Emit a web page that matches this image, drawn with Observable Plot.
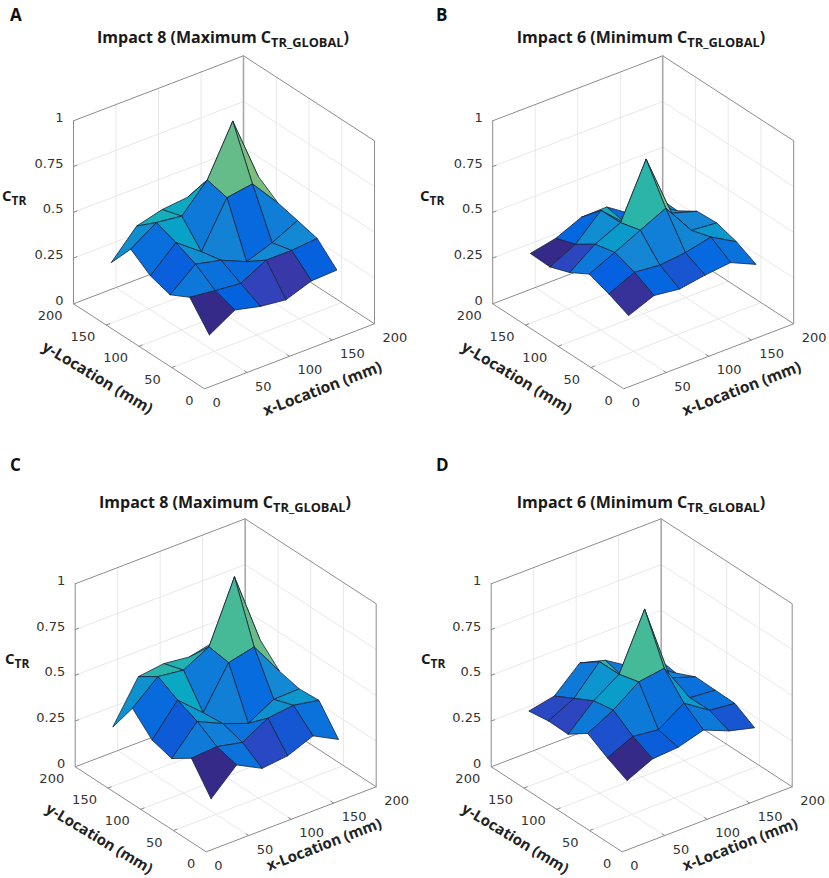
<!DOCTYPE html>
<html>
<head>
<meta charset="utf-8">
<script src="https://cdn.jsdelivr.net/npm/d3@7"></script>
<script src="https://cdn.jsdelivr.net/npm/@observablehq/plot@0.6"></script>
<style>
  body { margin: 0; background: #fff; width: 829px; height: 878px; position: relative; overflow: hidden; }
  .panel { position: absolute; }
  .letter { position: absolute; font: bold 17px "Open Sans"; color: #111; }
  .title { position: absolute; font: bold 16px "Open Sans"; color: #1a1a1a; white-space: nowrap; transform: translateX(-50%); }
  .title sub { font-size: 12.8px; line-height: 0; }
  .ctr { position: absolute; font: bold 15px "Open Sans"; color: #1a1a1a; }
  .ctr sub { font-size: 12px; line-height: 0; }
</style>
</head>
<body>
<script>
// sampling points of the surface (mm), same for x and y
const locations = [25, 55, 85, 115, 145, 175];
const xyTicks = [0, 50, 100, 150, 200];
const zTicks = [0, 0.25, 0.5, 0.75, 1];

// C_TR, one row per y-location, one column per x-location
const impact8A = [
  [0.192, 0.275, 0.241, 0.224, 0.274, 0.280],
  [0.328, 0.311, 0.297, 0.371, 0.371, 0.383],
  [0.272, 0.386, 0.354, 0.293, 0.343, 0.411],
  [0.306, 0.434, 0.331, 0.573, 0.595, 0.438],
  [0.382, 0.474, 0.456, 0.600, 0.868, 0.513],
  [0.238, 0.385, 0.422, 0.436, 0.506, 0.420]
];
const impact6B = [
  [0.298, 0.354, 0.336, 0.359, 0.374, 0.311],
  [0.346, 0.411, 0.397, 0.412, 0.444, 0.365],
  [0.385, 0.450, 0.518, 0.585, 0.411, 0.398],
  [0.324, 0.425, 0.490, 0.783, 0.435, 0.392],
  [0.285, 0.355, 0.487, 0.360, 0.410, 0.325],
  [0.289, 0.318, 0.380, 0.383, 0.290, 0.330]
];
const impact8C = [
  [0.187, 0.319, 0.247, 0.262, 0.318, 0.245],
  [0.339, 0.349, 0.319, 0.398, 0.415, 0.389],
  [0.268, 0.417, 0.352, 0.300, 0.378, 0.382],
  [0.299, 0.464, 0.342, 0.562, 0.595, 0.408],
  [0.403, 0.523, 0.505, 0.579, 0.908, 0.512],
  [0.231, 0.453, 0.471, 0.454, 0.486, 0.420]
];
const impact6D = [
  [0.287, 0.352, 0.362, 0.403, 0.345, 0.309],
  [0.341, 0.405, 0.388, 0.480, 0.388, 0.372],
  [0.405, 0.479, 0.580, 0.601, 0.387, 0.375],
  [0.331, 0.460, 0.552, 0.854, 0.426, 0.378],
  [0.334, 0.404, 0.551, 0.404, 0.420, 0.329],
  [0.318, 0.347, 0.475, 0.436, 0.349, 0.348]
];

// parula, the colormap of the surfaces
const parulaStops = [0, 0.0625, 0.125, 0.25, 0.375, 0.5, 0.625, 0.75, 0.875, 1];
const parulaColors = ["#352a87", "#3a3cb4", "#0363e1", "#1485d4", "#06a7c6", "#38b99e", "#92bf73", "#d9ba56", "#fcce2e", "#f9fb0e"];

function panel(cfg) {
  const [w, h] = cfg.size;
  const [ox, oy] = cfg.origin;
  const top = 1, max = 200;

  // the same view for all four plots: x runs up right, y up left, z straight up
  const project = (x, y, z) => ({
    px: ox + 0.85 * x - 0.655 * y,
    py: oy - 0.325 * x - 0.425 * y - 183 * z
  });
  const path = (id, pts) => pts.map(p => ({id, ...project(...p)}));

  // grid lines on floor and back walls
  let grid = [];
  xyTicks.slice(1, -1).forEach(t => {
    grid.push(...path("gx" + t, [[t, 0, 0], [t, max, 0], [t, max, top]]));
    grid.push(...path("gy" + t, [[0, t, 0], [max, t, 0], [max, t, top]]));
  });
  zTicks.slice(1, -1).forEach(t => {
    grid.push(...path("gz" + t, [[0, max, t], [max, max, t], [max, 0, t]]));
  });

  const box = [
    ...path("floor", [[0, max, top], [0, max, 0], [0, 0, 0], [max, 0, 0], [max, 0, top], [max, max, top], [0, max, top]]),
    ...path("back", [[0, max, 0], [max, max, 0], [max, 0, 0]])
  ];
  const backEdge = path("edge", [[max, max, 0], [max, max, top]]);

  // short tick marks along the axes
  let ticks = [];
  xyTicks.slice(1, -1).forEach(t => {
    ticks.push(...path("tx" + t, [[t, 0, 0], [t, 4, 0]]));
    ticks.push(...path("ty" + t, [[0, t, 0], [4, t, 0]]));
  });
  zTicks.slice(1, -1).forEach(t => {
    ticks.push(...path("tz" + t, [[0, max, t], [4, max, t]]));
  });

  // one closed polygon per cell, coloured by its first corner, far cells first
  let cells = [];
  for (let j = 0; j < locations.length - 1; j++) {
    for (let i = 0; i < locations.length - 1; i++) {
      const corner = (a, b) => [locations[a], locations[b], cfg.z[b][a]];
      const ring = [corner(i, j), corner(i + 1, j), corner(i + 1, j + 1), corner(i, j + 1), corner(i, j)];
      cells.push({order: i + j, rows: ring.map(p => ({cell: i + "-" + j, value: cfg.z[j][i], ...project(...p)}))});
    }
  }
  const surface = d3.sort(cells, d => -d.order).flatMap(d => d.rows);

  const tickFont = {fontFamily: "DejaVu Sans", fontSize: 13, fill: "#333"};
  const labelFont = {fontFamily: "Open Sans", fontSize: cfg.labelSize, fontWeight: 700, fill: "#222"};

  const chart = Plot.plot({
    width: w,
    height: h,
    margin: 0,
    x: {domain: [0, w], range: [0, w], axis: null},
    y: {domain: [0, h], range: [0, h], axis: null},
    color: {type: "linear", domain: d3.extent(cfg.z.flat()), interpolate: d3.scaleLinear().domain(parulaStops).range(parulaColors)},
    style: {background: "#fff", display: "block"},
    marks: [
      Plot.line(grid, {x: "px", y: "py", z: "id", stroke: "#e8e8e8", strokeWidth: 1}),
      Plot.line(box, {x: "px", y: "py", z: "id", stroke: "#8c8c8c", strokeWidth: 1}),
      Plot.line(backEdge, {x: "px", y: "py", stroke: "#a8a8a8", strokeWidth: 1.6}),
      Plot.line(ticks, {x: "px", y: "py", z: "id", stroke: "#8c8c8c", strokeWidth: 1}),
      Plot.line(surface, {x: "px", y: "py", z: "cell", fill: "value", stroke: "#16233c", strokeWidth: 0.8}),
      Plot.text(xyTicks, {x: t => project(t, 0, 0).px, y: t => project(t, 0, 0).py, text: d => String(d), dx: 8, dy: 14, textAnchor: "start", ...tickFont}),
      Plot.text(xyTicks, {x: t => project(0, t, 0).px, y: t => project(0, t, 0).py, text: d => String(d), dx: -11, dy: 12, textAnchor: "end", ...tickFont}),
      Plot.text(zTicks, {x: t => project(0, max, t).px, y: t => project(0, max, t).py, text: d => String(d), dx: -10, dy: -3, textAnchor: "end", ...tickFont}),
      Plot.text(["x-Location (mm)"], {x: () => ox + 118, y: () => oy + cfg.xLabelDy, text: d => d, rotate: -21, ...labelFont}),
      Plot.text(["y-Location (mm)"], {x: () => ox - 107, y: () => oy + cfg.yLabelDy, text: d => d, rotate: 31, ...labelFont})
    ]
  });

  const div = d3.select("body").append("div").attr("class", "panel")
    .style("left", cfg.at[0] + "px").style("top", cfg.at[1] + "px")
    .style("width", w + "px").style("height", h + "px");
  div.append(() => chart);
  div.append("div").attr("class", "letter").text(cfg.letter)
    .style("left", cfg.letterAt[0] + "px").style("top", cfg.letterAt[1] + "px");
  const title = div.append("div").attr("class", "title")
    .style("left", cfg.titleAt[0] + "px").style("top", cfg.titleAt[1] + "px");
  title.append("span").text(cfg.title + " (" + cfg.kind + " C");
  title.append("sub").text("TR_GLOBAL");
  title.append("span").text(")");
  const ctr = div.append("div").attr("class", "ctr")
    .style("left", cfg.ctrAt[0] + "px").style("top", cfg.ctrAt[1] + "px");
  ctr.append("span").text("C");
  ctr.append("sub").text("TR");
}

const upper = {labelSize: 15.5, xLabelDy: 0, yLabelDy: -11};
const lower = {labelSize: 15, xLabelDy: -7, yLabelDy: -13};

panel({...upper, letter: "A", title: "Impact 8", kind: "Maximum", z: impact8A, at: [0, 0], size: [415, 450], origin: [204, 388.3], letterAt: [10, 3], titleAt: [223, 26], ctrAt: [2, 185]});
panel({...upper, letter: "B", title: "Impact 6", kind: "Minimum", z: impact6B, at: [415, 0], size: [414, 450], origin: [208.2, 388.3], letterAt: [21, 3], titleAt: [226, 26], ctrAt: [5, 185]});
panel({...lower, letter: "C", title: "Impact 8", kind: "Maximum", z: impact8C, at: [0, 450], size: [415, 428], origin: [205.7, 401.3], letterAt: [10, 3], titleAt: [225, 41], ctrAt: [5, 198]});
panel({...lower, letter: "D", title: "Impact 6", kind: "Minimum", z: impact6D, at: [415, 450], size: [414, 428], origin: [206.7, 401.3], letterAt: [21, 3], titleAt: [226, 41], ctrAt: [6, 198]});
</script>
</body>
</html>
